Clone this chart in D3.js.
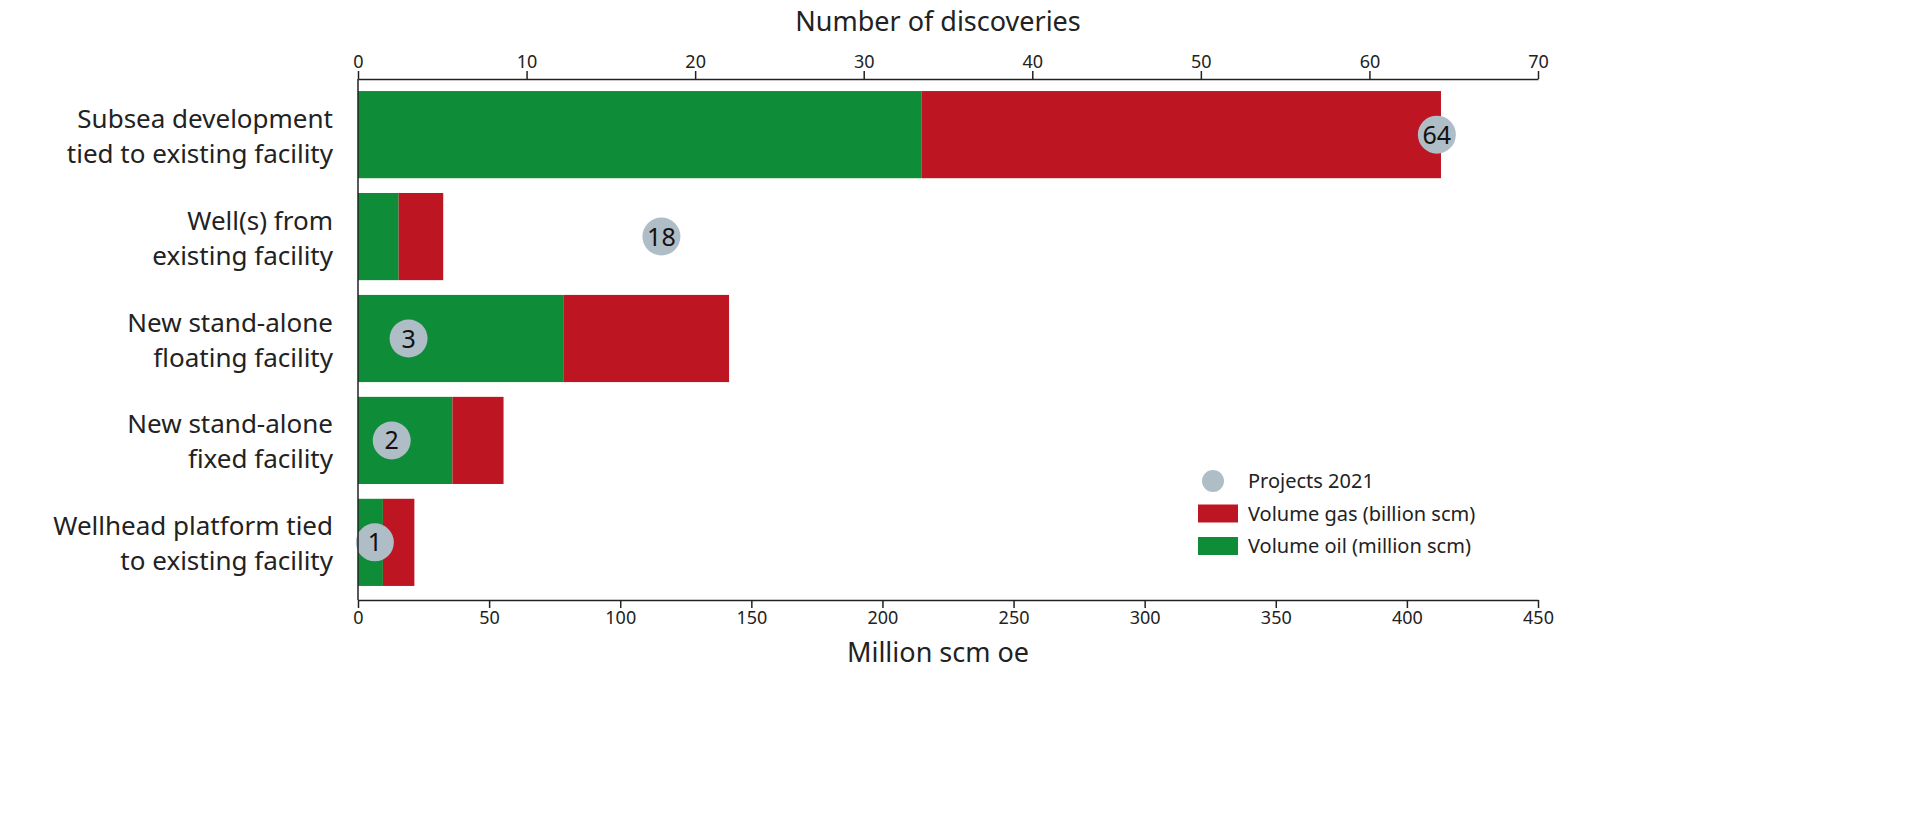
<!DOCTYPE html>
<html><head><meta charset="utf-8">
<script src="https://cdn.jsdelivr.net/npm/d3@7"></script>
<style>body{margin:0;background:#fff;font-family:"Noto Sans",sans-serif;}</style>
</head><body><svg id="c" width="1920" height="825"></svg>
<script>
const categories = [["Subsea development","tied to existing facility"],["Well(s) from","existing facility"],["New stand-alone","floating facility"],["New stand-alone","fixed facility"],["Wellhead platform tied","to existing facility"]];
const oilValues = [215, 15.5, 78.5, 36, 9.5];
const gasValues = [198, 17, 63, 19.5, 12];
const projects = [64, 18, 3, 2, 1];
const bottomTicks = [0,50,100,150,200,250,300,350,400,450];
const topTicks = [0,10,20,30,40,50,60,70];
const colOil = "#0e8c37", colGas = "#bd1622", colProj = "#aebdc6";

const svg = d3.select("#c");
const L = 358, R = 1538, T = 79, B = 600;
const x = d3.scaleLinear().domain([0,450]).range([L,R]);
const xt = d3.scaleLinear().domain([0,70]).range([L,R]);
const y = d3.scaleBand().domain(d3.range(categories.length)).range([88,589]).paddingInner(0.145).paddingOuter(0.03);

const g = svg.append("g");
categories.forEach((c,i)=>{
  g.append("rect").attr("x",x(0)).attr("y",y(i)).attr("width",x(oilValues[i])-x(0)).attr("height",y.bandwidth()).attr("fill",colOil);
  g.append("rect").attr("x",x(oilValues[i])).attr("y",y(i)).attr("width",x(oilValues[i]+gasValues[i])-x(oilValues[i])).attr("height",y.bandwidth()).attr("fill",colGas);
  const cy = y(i)+y.bandwidth()/2;
  g.append("circle").attr("cx",xt(projects[i])).attr("cy",cy).attr("r",19).attr("fill",colProj);
  g.append("text").attr("x",xt(projects[i])).attr("y",cy+9).attr("text-anchor","middle").attr("font-size",25).attr("fill","#111").text(projects[i]);
  const t = g.append("text").attr("text-anchor","end").attr("font-size",26).attr("fill","#222");
  t.append("tspan").attr("x",333).attr("y",cy-7).text(c[0]);
  t.append("tspan").attr("x",333).attr("y",cy+28).text(c[1]);
});

const ax = svg.append("g").attr("transform",`translate(0,${B})`).call(d3.axisBottom(x).tickValues(bottomTicks).tickSize(8).tickSizeOuter(0));
const axt = svg.append("g").attr("transform",`translate(0,${T})`).call(d3.axisTop(xt).tickValues(topTicks).tickSize(8).tickSizeOuter(0));
[ax,axt].forEach(a=>{a.selectAll("text").attr("font-size",18).attr("font-family","Noto Sans").attr("fill","#222");a.selectAll("path,line").attr("stroke","#222").attr("stroke-width",1.5);});
svg.append("line").attr("x1",L).attr("x2",L).attr("y1",T).attr("y2",B).attr("stroke","#222").attr("stroke-width",1.5);

svg.append("text").attr("x",(L+R)/2-10).attr("y",662).attr("text-anchor","middle").attr("font-size",27).attr("fill","#222").text("Million scm oe");
svg.append("text").attr("x",(L+R)/2-10).attr("y",31).attr("text-anchor","middle").attr("font-size",27).attr("fill","#222").text("Number of discoveries");

const leg = [["Projects 2021","c",colProj],["Volume gas (billion scm)","r",colGas],["Volume oil (million scm)","r",colOil]];
leg.forEach((d,i)=>{
  const cy = 481+i*32.5;
  if(d[1]==="c") svg.append("circle").attr("cx",1213).attr("cy",cy).attr("r",11).attr("fill",d[2]);
  else svg.append("rect").attr("x",1198).attr("y",cy-9).attr("width",40).attr("height",18).attr("fill",d[2]);
  svg.append("text").attr("x",1248).attr("y",cy+7).attr("font-size",20).attr("fill","#222").text(d[0]);
});
</script></body></html>
